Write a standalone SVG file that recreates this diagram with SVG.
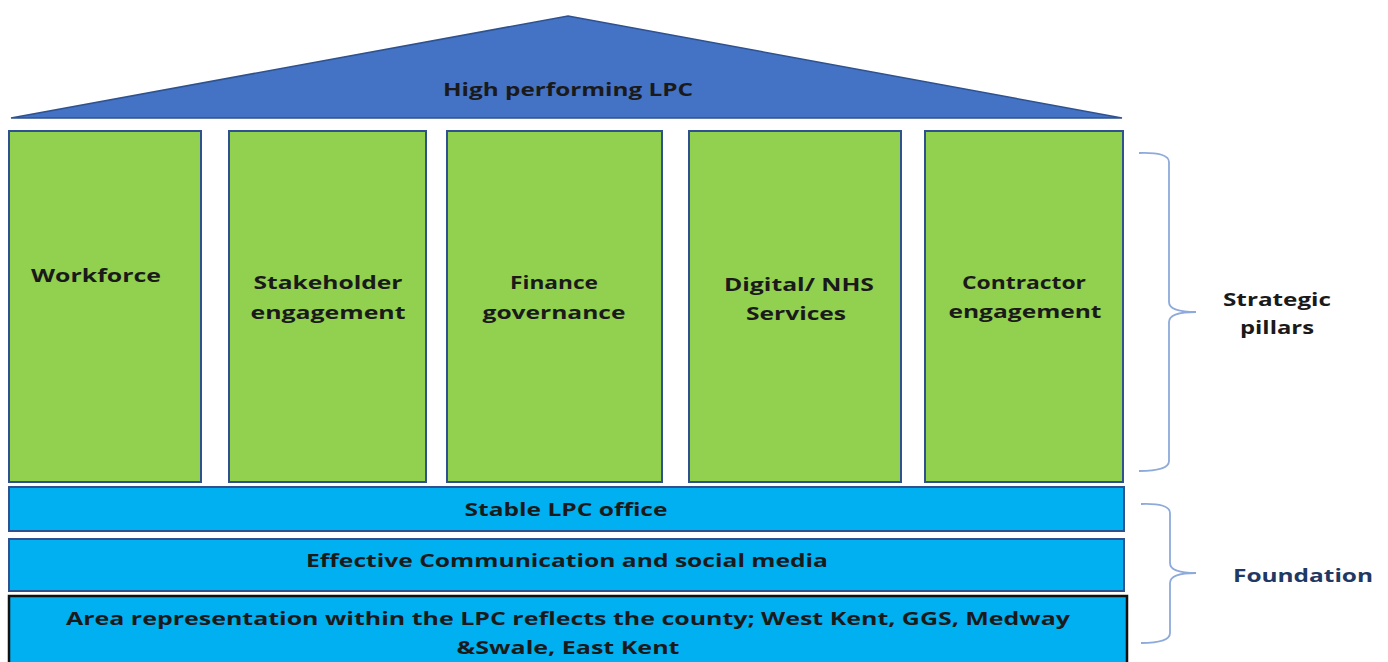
<svg xmlns="http://www.w3.org/2000/svg" width="1388" height="662" viewBox="0 0 1388 662">
<style>
.t{font-family:"Open Sans","Liberation Sans",sans-serif;font-weight:bold;font-size:18px;fill:#1a1a1a;text-anchor:middle}
.pillar{fill:#92d050;stroke:#2f528f;stroke-width:2}
.strip{fill:#00b0f0;stroke:#2f528f;stroke-width:2}
.brace{fill:none;stroke:#8eaadb;stroke-width:1.8}
</style>
<rect width="1388" height="662" fill="#ffffff"/>
<g id="roof">
<polygon points="568,16 1122,118 11,118" fill="#4472c4" stroke="#2f528f" stroke-width="1.5"/>
<text class="t" x="568" y="96" textLength="250" lengthAdjust="spacingAndGlyphs">High performing LPC</text>
</g>
<g id="pillar-workforce">
<rect class="pillar" x="9" y="131" width="192" height="351"/>
<text class="t" x="96" y="282" textLength="130" lengthAdjust="spacingAndGlyphs">Workforce</text>
</g>
<g id="pillar-stakeholder">
<rect class="pillar" x="229" y="131" width="197" height="351"/>
<text class="t" x="328" y="289" textLength="149" lengthAdjust="spacingAndGlyphs">Stakeholder</text>
<text class="t" x="328" y="319" textLength="155" lengthAdjust="spacingAndGlyphs">engagement</text>
</g>
<g id="pillar-finance">
<rect class="pillar" x="447" y="131" width="215" height="351"/>
<text class="t" x="554" y="289" textLength="88" lengthAdjust="spacingAndGlyphs">Finance</text>
<text class="t" x="554" y="319" textLength="143" lengthAdjust="spacingAndGlyphs">governance</text>
</g>
<g id="pillar-digital">
<rect class="pillar" x="689" y="131" width="212" height="351"/>
<text class="t" x="799" y="291" textLength="150" lengthAdjust="spacingAndGlyphs">Digital/ NHS</text>
<text class="t" x="796" y="320" textLength="100" lengthAdjust="spacingAndGlyphs">Services</text>
</g>
<g id="pillar-contractor">
<rect class="pillar" x="925" y="131" width="198" height="351"/>
<text class="t" x="1024" y="289" textLength="124" lengthAdjust="spacingAndGlyphs">Contractor</text>
<text class="t" x="1025" y="318" textLength="153" lengthAdjust="spacingAndGlyphs">engagement</text>
</g>
<g id="strip-office">
<rect class="strip" x="9" y="487" width="1115" height="44"/>
<text class="t" x="566" y="516" textLength="203" lengthAdjust="spacingAndGlyphs">Stable LPC office</text>
</g>
<g id="strip-communication">
<rect class="strip" x="9" y="539" width="1115" height="52"/>
<text class="t" x="567" y="567" textLength="522" lengthAdjust="spacingAndGlyphs">Effective Communication and social media</text>
</g>
<g id="strip-area">
<rect x="9" y="596" width="1118" height="70" fill="#00b0f0" stroke="#111111" stroke-width="2.5"/>
<text class="t" x="568" y="625" textLength="1004" lengthAdjust="spacingAndGlyphs">Area representation within the LPC reflects the county; West Kent, GGS, Medway</text>
<text class="t" x="568" y="654" textLength="223" lengthAdjust="spacingAndGlyphs">&amp;Swale, East Kent</text>
</g>
<g id="connectors">
<path class="brace" d="M1139,153 Q1169,152 1169,162 L1169,302 Q1169,312 1196,312 Q1169,312 1169,322 L1169,461 Q1169,471 1139,471"/>
<path class="brace" d="M1141,504 Q1170,503 1170,513 L1170,563 Q1170,573 1196,573 Q1170,573 1170,583 L1170,633 Q1170,643 1141,643"/>
</g>
<g id="label-pillars">
<text class="t" x="1277" y="306" textLength="108" lengthAdjust="spacingAndGlyphs">Strategic</text>
<text class="t" x="1277" y="334" textLength="74" lengthAdjust="spacingAndGlyphs">pillars</text>
</g>
<g id="label-foundation">
<text class="t" x="1303" y="582" textLength="140" lengthAdjust="spacingAndGlyphs" style="fill:#1f3864">Foundation</text>
</g>
</svg>
